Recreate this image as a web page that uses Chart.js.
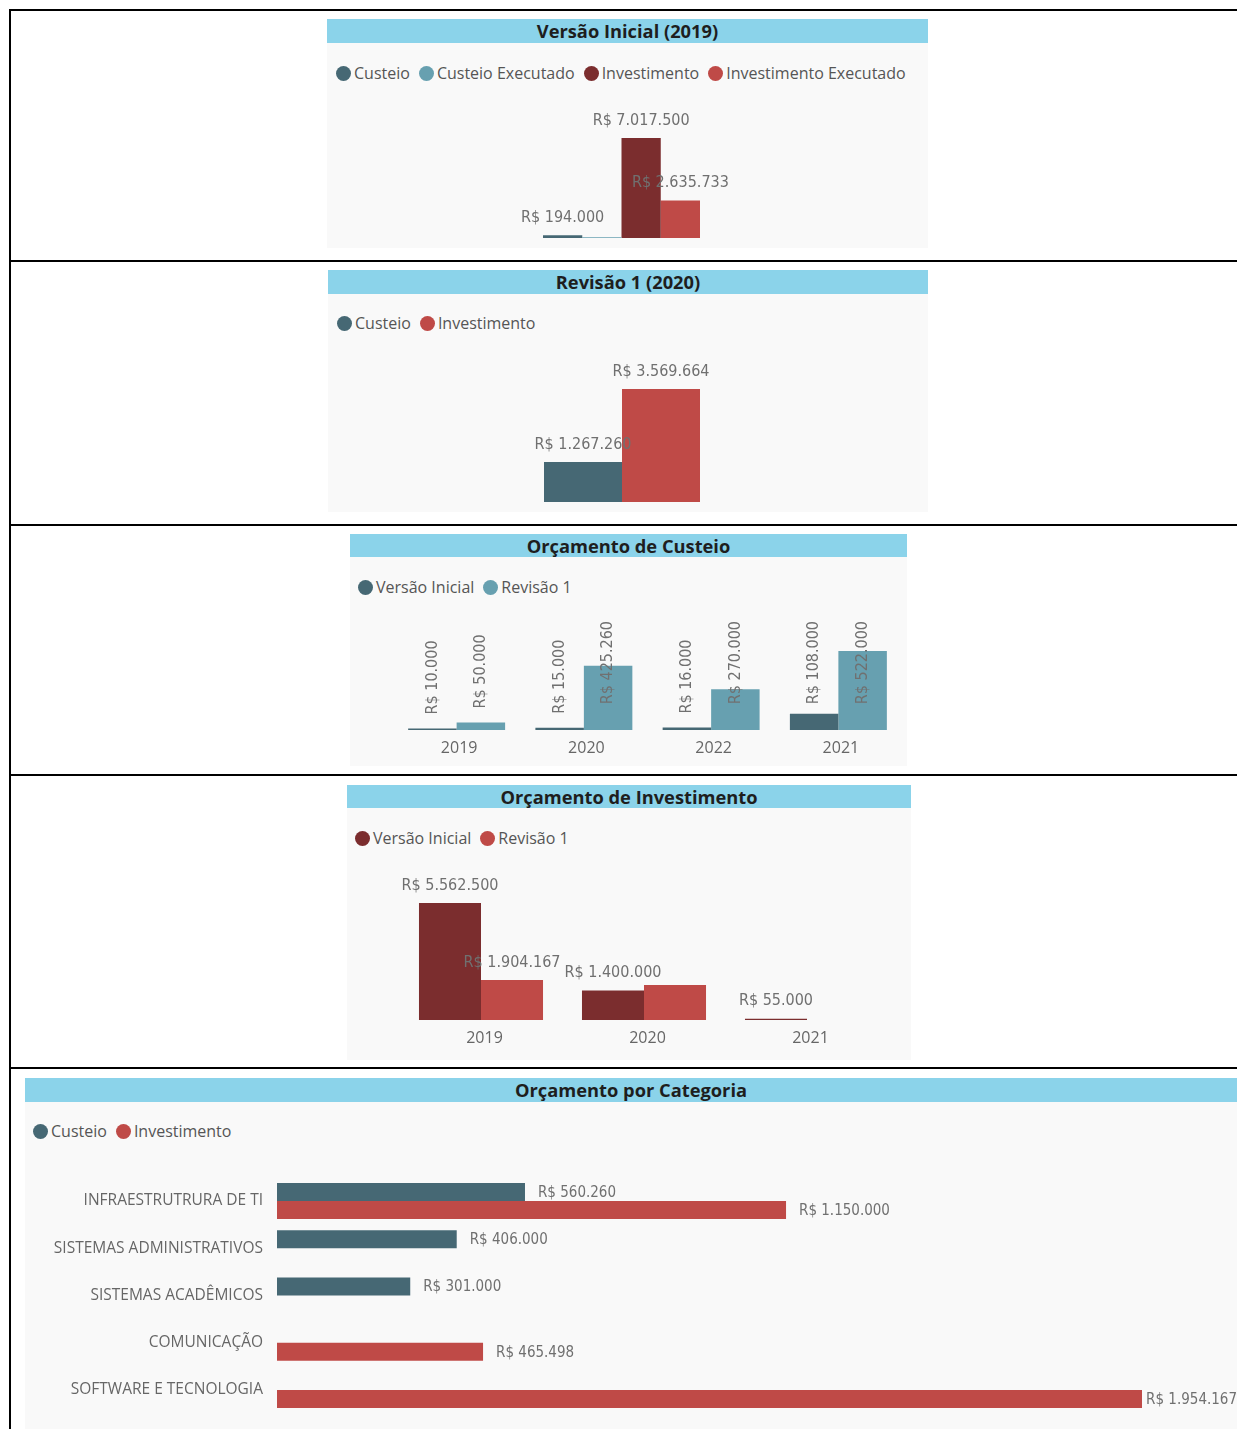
<!DOCTYPE html>
<html><head><meta charset="utf-8">
<script src="https://cdn.jsdelivr.net/npm/chart.js@4/dist/chart.umd.min.js"></script>
<style>
html,body{margin:0;padding:0;background:#fff;}
body{width:1237px;height:1429px;position:relative;overflow:hidden;font-family:"Open Sans",sans-serif;}
.hl{position:absolute;left:9px;right:0;height:2px;background:#000;}
.vl{position:absolute;left:9px;top:10px;width:2px;bottom:0;background:#000;}
.panel{position:absolute;background:#f9f9f9;}
.title{position:absolute;background:#8bd3ea;color:#1e1e1e;font-weight:700;font-size:18.3px;text-align:center;line-height:24px;}
.legend{position:absolute;display:flex;align-items:center;font-size:16px;color:#555;line-height:20px;white-space:nowrap;}
.legend .it{display:flex;align-items:center;margin-right:9px;}
.legend .dot{width:15px;height:15px;border-radius:50%;margin-right:3px;}
canvas{position:absolute;}
</style>
</head>
<body>
<script>
// ---------- DATA ----------
const c1Categories = ['2019'];
const c1Names = ['Custeio', 'Custeio Executado', 'Investimento', 'Investimento Executado'];
const c1Custeio = [194000];
const c1CusteioExec = [60000];
const c1Invest = [7017500];
const c1InvestExec = [2635733];

const c2Categories = ['2020'];
const c2Names = ['Custeio', 'Investimento'];
const c2Custeio = [1267260];
const c2Invest = [3569664];

const c3Years = ['2019', '2020', '2022', '2021'];
const c3Names = ['Versão Inicial', 'Revisão 1'];
const c3Inicial = [10000, 15000, 16000, 108000];
const c3Revisao = [50000, 425260, 270000, 522000];

const c4Years = ['2019', '2020', '2021'];
const c4Names = ['Versão Inicial', 'Revisão 1'];
const c4Inicial = [5562500, 1400000, 55000];
const c4Revisao = [1904167, 1665000, null];

const c5Categories = ['INFRAESTRUTRURA DE TI', 'SISTEMAS ADMINISTRATIVOS', 'SISTEMAS ACADÊMICOS', 'COMUNICAÇÃO', 'SOFTWARE E TECNOLOGIA'];
const c5Names = ['Custeio', 'Investimento'];
const c5Custeio = [560260, 406000, 301000, null, null];
const c5Invest = [1150000, null, null, 465498, 1954167];

// ---------- STYLE ----------
const COL = {custeio:'#466874', custeioLight:'#67a0b0', invDark:'#7b2d2e', inv:'#bf4a47'};

function fmt(v){ return 'R$ ' + String(v).replace(/\B(?=(\d{3})+(?!\d))/g, '.'); }

function el(cls, css, html){
  const d = document.createElement('div'); d.className = cls;
  Object.assign(d.style, css); if (html) d.innerHTML = html;
  document.body.appendChild(d); return d;
}
function legend(x, y, names, colors){
  const d = el('legend', {left:x+'px', top:(y-10)+'px'});
  names.forEach((n,i)=>{
    const it = document.createElement('div'); it.className='it';
    const dot = document.createElement('span'); dot.className='dot'; dot.style.background=colors[i];
    const t = document.createElement('span'); t.textContent = n;
    it.appendChild(dot); it.appendChild(t); d.appendChild(it);
  });
}
function canvas(x, y, w, h){
  const c = document.createElement('canvas');
  c.width = w; c.height = h; c.style.left = x+'px'; c.style.top = y+'px';
  c.style.width = w+'px'; c.style.height = h+'px';
  document.body.appendChild(c); return c;
}

// table lines
[10, 261, 525, 775, 1068].forEach(y => el('hl', {top:(y-1)+'px'}));
el('vl', {});

// panels
function panel(x, w, tTop, tBot, bBot, title){
  el('panel', {left:x+'px', width:w+'px', top:tBot+'px', height:(bBot-tBot)+'px'});
  el('title', {left:x+'px', width:w+'px', top:tTop+'px', height:(tBot-tTop)+'px'}, title);
}
panel(327, 601, 19, 43, 248, 'Versão Inicial (2019)');
panel(328, 600, 270, 294, 512, 'Revisão 1 (2020)');
panel(350, 557, 534, 557, 766, 'Orçamento de Custeio');
panel(347, 564, 785, 808, 1060, 'Orçamento de Investimento');
panel(25, 1212, 1078, 1102, 1429, 'Orçamento por Categoria');

legend(336, 73, c1Names, [COL.custeio, COL.custeioLight, COL.invDark, COL.inv]);
legend(337, 323, c2Names, [COL.custeio, COL.inv]);
legend(358, 587, c3Names, [COL.custeio, COL.custeioLight]);
legend(355, 838, c4Names, [COL.invDark, COL.inv]);
legend(33, 1131, c5Names, [COL.custeio, COL.inv]);

// ---------- value label plugin ----------
const valueLabels = {
  id:'valueLabels',
  afterDatasetsDraw(chart, args, opts){
    if (!opts || !opts.mode) return;
    const ctx = chart.ctx;
    ctx.save();
    ctx.font = opts.font; ctx.fillStyle = opts.color;
    const rects = [];
    chart.data.datasets.forEach((ds, di) => {
      const meta = chart.getDatasetMeta(di);
      meta.data.forEach((bar, i) => {
        const v = ds.data[i];
        if (v == null) return;
        const txt = fmt(v);
        const w = ctx.measureText(txt).width;
        if (opts.mode === 'rotated') {
          const start = Math.max(bar.y - 14, chart.chartArea.top - 30 + w);
          ctx.save(); ctx.translate(bar.x, start); ctx.rotate(-Math.PI/2);
          ctx.textAlign = 'left'; ctx.textBaseline = 'middle'; ctx.fillText(txt, 0, 0); ctx.restore();
        } else if (opts.mode === 'right') {
          const x = Math.min(bar.x + 13, chart.width - w);
          ctx.textAlign = 'left'; ctx.textBaseline = 'middle'; ctx.fillText(txt, x, bar.y + 1);
        } else {
          const x = bar.x, y = bar.y - 17.5;
          const r = {l:x-w/2, r:x+w/2, t:y-8, b:y+8};
          if (rects.some(o => r.l < o.r && r.r > o.l && r.t < o.b && r.b > o.t)) return;
          rects.push(r);
          ctx.textAlign = 'center'; ctx.textBaseline = 'middle'; ctx.fillText(txt, x, y);
        }
      });
    });
    ctx.restore();
  }
};

function makeChart(cv, labels, series, o){
  return new Chart(cv, {
    type:'bar',
    data:{ labels, datasets: series.map(s => ({label:s.name, data:s.data, backgroundColor:s.color, borderWidth:0,
      categoryPercentage:o.cat, barPercentage:1})) },
    options:{
      responsive:false, animation:false, devicePixelRatio:1, indexAxis:o.indexAxis || 'x',
      layout:{padding:o.padding},
      plugins:{legend:{display:false}, tooltip:{enabled:false}, valueLabels:o.labels},
      scales:o.scales
    },
    plugins:[valueLabels]
  });
}
const maxOf = (...arrs) => Math.max(...arrs.flat().filter(v => v != null));
const tickFont = {family:'"Open Sans"', size:16};
const LBL = '#707070';

// Chart 1
makeChart(canvas(327, 95, 601, 143), c1Categories, [
  {name:c1Names[0], data:c1Custeio, color:COL.custeio},
  {name:c1Names[1], data:c1CusteioExec, color:COL.custeioLight},
  {name:c1Names[2], data:c1Invest, color:COL.invDark},
  {name:c1Names[3], data:c1InvestExec, color:COL.inv}
], {cat:157/589, padding:{top:43, right:12, left:0, bottom:0},
  labels:{mode:'top', font:'16px "DejaVu Sans Condensed"', color:LBL},
  scales:{x:{display:false}, y:{display:false, min:0, max:maxOf(c1Custeio,c1CusteioExec,c1Invest,c1InvestExec)}}});

// Chart 2
makeChart(canvas(328, 349, 600, 153), c2Categories, [
  {name:c2Names[0], data:c2Custeio, color:COL.custeio},
  {name:c2Names[1], data:c2Invest, color:COL.inv}
], {cat:156/588, padding:{top:40, right:12, left:0, bottom:0},
  labels:{mode:'top', font:'16px "DejaVu Sans Condensed"', color:LBL},
  scales:{x:{display:false}, y:{display:false, min:0, max:maxOf(c2Custeio,c2Invest)}}});

// Chart 3
makeChart(canvas(350, 605, 557, 160), c3Years, [
  {name:c3Names[0], data:c3Inicial, color:COL.custeio},
  {name:c3Names[1], data:c3Revisao, color:COL.custeioLight}
], {cat:0.762, padding:{top:46, right:5, left:43, bottom:0},
  labels:{mode:'rotated', font:'16px "DejaVu Sans Condensed"', color:LBL},
  scales:{
    x:{grid:{display:false, drawTicks:false}, border:{display:false}, ticks:{color:'#666', font:tickFont, padding:9, labelOffset:2.5}, afterFit(s){ s.height = 35; }},
    y:{display:false, min:0, max:maxOf(c3Inicial,c3Revisao)}}});

// Chart 4
makeChart(canvas(347, 860, 564, 198), c4Years, [
  {name:c4Names[0], data:c4Inicial, color:COL.invDark},
  {name:c4Names[1], data:c4Revisao, color:COL.inv}
], {cat:0.761, padding:{top:43, right:22.5, left:52.5, bottom:0},
  labels:{mode:'top', font:'16px "DejaVu Sans Condensed"', color:LBL},
  scales:{
    x:{grid:{display:false, drawTicks:false}, border:{display:false}, ticks:{color:'#666', font:tickFont, padding:9, labelOffset:3.5}, afterFit(s){ s.height = 38; }},
    y:{display:false, min:0, max:maxOf(c4Inicial,c4Revisao)}}});

// Chart 5
makeChart(canvas(25, 1102, 1212, 327), c5Categories, [
  {name:c5Names[0], data:c5Custeio, color:COL.custeio},
  {name:c5Names[1], data:c5Invest, color:COL.inv}
], {cat:0.762, indexAxis:'y', padding:{top:75.4, right:95, left:0, bottom:15.4},
  labels:{mode:'right', font:'15px "DejaVu Sans Condensed"', color:LBL},
  scales:{
    x:{display:false, min:0, max:maxOf(c5Custeio,c5Invest)},
    y:{grid:{display:false, drawTicks:false}, border:{display:false}, ticks:{color:'#666', font:{family:'"Open Sans"', size:15.5}, padding:14},
       afterFit(s){ s.width = 252; s.paddingTop = 0; s.paddingBottom = 0; }}}});
</script>
</body></html>
